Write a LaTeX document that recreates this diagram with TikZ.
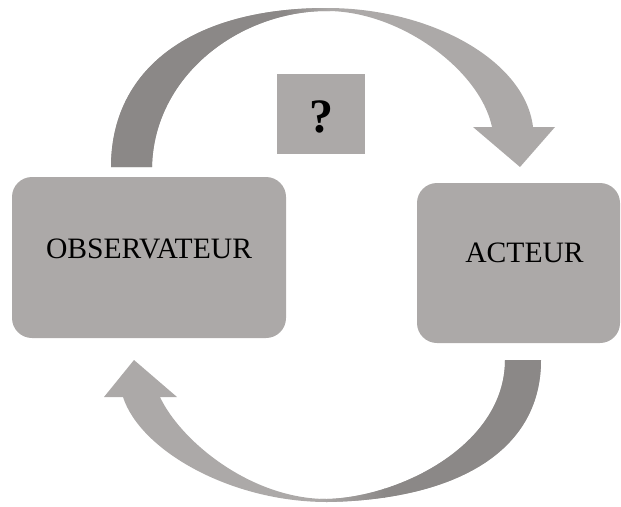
\documentclass[tikz,border=0pt]{standalone}
\usepackage{fontspec}
\setmainfont{Liberation Serif}
\usepackage{tikz}
\usetikzlibrary{positioning,calc}
\definecolor{lt}{HTML}{ACA9A8}
\definecolor{dk}{HTML}{8B8887}
\tikzset{
  box/.style={fill=lt, rounded corners=20pt, inner sep=0pt},
  qbox/.style={fill=lt, inner sep=0pt, minimum width=88pt, minimum height=80pt},
  lbl/.style={font=\fontsize{29.6}{30}\selectfont, inner sep=0pt},
  qlbl/.style={font=\fontsize{48}{48}\selectfont\bfseries, inner sep=0pt},
}
\newcommand{\toparrow}{(111,167) .. controls (111,70) and (190,8) .. (327,8)
  .. controls (430,8) and (525,60) .. (533,127) -- (555,127) -- (520,167) -- (473,127) -- (492,127)
  .. controls (480,70) and (400,11) .. (327,11) .. controls (240,11) and (154,75) .. (152,167) -- cycle}
\newcommand{\botarrow}{(505,360) -- (541,360) .. controls (541,455) and (450,500) .. (327,502)
  .. controls (230,502) and (140,450) .. (123,397) -- (104,397) -- (134,360) -- (177,397) -- (160,397)
  .. controls (180,440) and (250,499) .. (327,499) .. controls (400,497) and (505,445) .. (505,360) -- cycle}
\begin{document}
\begin{tikzpicture}[x=1pt,y=-1pt]
  \useasboundingbox (0,0) rectangle (621,506);
  \node[box, minimum width=274pt, minimum height=161pt] (obs) at (149,257.5) {};
  \node[lbl] (obslbl) at ([yshift=8.5pt]obs.center) {OBSERVATEUR};
  \node[box, minimum width=203pt, minimum height=160pt] (act) at (518.5,263) {};
  \node[lbl] (actlbl) at ([xshift=6pt,yshift=10pt]act.center) {ACTEUR};
  \node[qbox] (q) at (321,114) {};
  \node[qlbl] (qlbl) at ([yshift=-2.5pt]q.center) {?};
  \begin{scope}
    \clip \toparrow;
    \fill[lt] (0,0) rectangle (621,200);
    \fill[dk] (0,0) rectangle (285,200);
    \shade[left color=dk, right color=lt] (284,0) rectangle (330,200);
  \end{scope}
  \begin{scope}
    \clip \botarrow;
    \fill[lt] (0,340) rectangle (621,506);
    \fill[dk] (384,340) rectangle (621,506);
    \shade[left color=lt, right color=dk] (320,340) rectangle (385,506);
  \end{scope}
\end{tikzpicture}
\end{document}
